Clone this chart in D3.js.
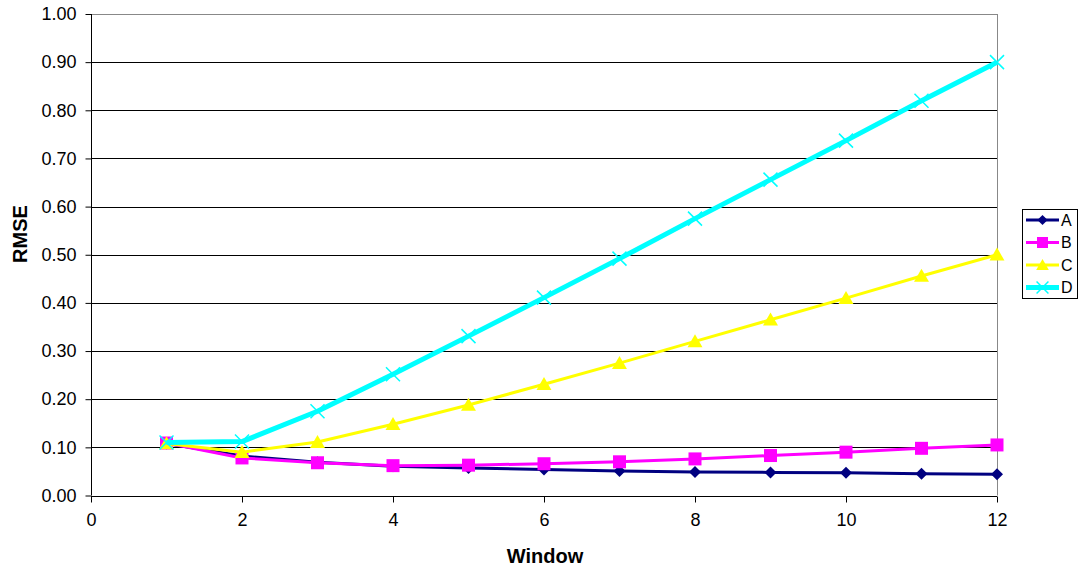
<!DOCTYPE html>
<html>
<head>
<meta charset="utf-8">
<script src="https://cdn.jsdelivr.net/npm/d3@7"></script>
<style>
  html, body { margin: 0; padding: 0; background: #fff; }
  svg { display: block; font-family: "Liberation Sans", Arial, sans-serif; }
</style>
</head>
<body>
<svg id="chart" width="1080" height="574"></svg>
<script>
// Window sizes on the x axis
const windows = [1, 2, 3, 4, 5, 6, 7, 8, 9, 10, 11, 12];

// RMSE per window for each series
const seriesA = [0.108, 0.082, 0.069, 0.061, 0.057, 0.054, 0.051, 0.049, 0.048, 0.047, 0.045, 0.044];
const seriesB = [0.109, 0.078, 0.068, 0.062, 0.063, 0.066, 0.070, 0.076, 0.083, 0.090, 0.098, 0.105];
const seriesC = [0.108, 0.090, 0.111, 0.148, 0.188, 0.231, 0.275, 0.320, 0.365, 0.410, 0.456, 0.500];
const seriesD = [0.110, 0.112, 0.175, 0.252, 0.331, 0.411, 0.492, 0.575, 0.656, 0.737, 0.820, 0.900];

const seriesNames = ["A", "B", "C", "D"];
const xTicks = [0, 2, 4, 6, 8, 10, 12];
const yTicks = [0, 0.1, 0.2, 0.3, 0.4, 0.5, 0.6, 0.7, 0.8, 0.9, 1.0];

const series = [
  { name: seriesNames[0], values: seriesA, color: "#000080", width: 3, marker: "diamond" },
  { name: seriesNames[1], values: seriesB, color: "#FF00FF", width: 3, marker: "square" },
  { name: seriesNames[2], values: seriesC, color: "#FFFF00", width: 3, marker: "triangle" },
  { name: seriesNames[3], values: seriesD, color: "#00FFFF", width: 5, marker: "cross" }
];

const svg = d3.select("#chart");
const plot = { left: 91, right: 997, top: 14, bottom: 495.5 };
const font = "Liberation Sans, Arial, sans-serif";

const x = d3.scaleLinear().domain([0, 12]).range([plot.left, plot.right]);
const y = d3.scaleLinear().domain([0, 1]).range([plot.bottom, plot.top]);

// Horizontal gridlines
svg.append("g")
  .selectAll("line")
  .data(yTicks.filter(t => t > 0))
  .join("line")
  .attr("x1", plot.left).attr("x2", plot.right)
  .attr("y1", d => Math.round(y(d)) + 0.5).attr("y2", d => Math.round(y(d)) + 0.5)
  .attr("stroke", d => d === 1 ? "#888" : "#000")
  .attr("stroke-width", 1);

// Right border of plot area
svg.append("line")
  .attr("x1", Math.round(plot.right) + 0.5).attr("x2", Math.round(plot.right) + 0.5)
  .attr("y1", plot.top).attr("y2", plot.bottom)
  .attr("stroke", "#888");

// Y axis
const yAxis = d3.axisLeft(y).tickValues(yTicks).tickFormat(d3.format(".2f")).tickSize(6).tickPadding(9);
const gy = svg.append("g").attr("transform", `translate(${plot.left + 0.5},0)`).call(yAxis);
gy.selectAll("text").attr("font-size", 18).attr("fill", "#000").style("font-family", font);
gy.selectAll("line,path").attr("stroke", "#000");
gy.select(".domain").attr("d", `M0,${plot.top}V${plot.bottom}`);

// X axis
const xAxis = d3.axisBottom(x).tickValues(xTicks).tickSize(6).tickPadding(11);
const gx = svg.append("g").attr("transform", `translate(0,${Math.round(plot.bottom) + 0.5})`).call(xAxis);
gx.selectAll("text").attr("font-size", 18).attr("fill", "#000").style("font-family", font);
gx.selectAll("line,path").attr("stroke", "#000");
gx.select(".domain").attr("d", `M${plot.left},0H${plot.right}`);

// Axis titles
svg.append("text")
  .attr("x", 545).attr("y", 563)
  .attr("text-anchor", "middle").attr("font-size", 20).attr("font-weight", "bold")
  .text("Window");
svg.append("text")
  .attr("transform", `translate(27,234) rotate(-90)`)
  .attr("text-anchor", "middle").attr("font-size", 20).attr("font-weight", "bold")
  .text("RMSE");

// Marker shapes
function markerPath(type, s) {
  if (type === "diamond") return `M0,${-s}L${s},0L0,${s}L${-s},0Z`;
  if (type === "square") return `M${-s},${-s}H${s}V${s}H${-s}Z`;
  if (type === "triangle") return `M0,${-s * 1.1}L${s * 1.15},${s * 0.9}L${-s * 1.15},${s * 0.9}Z`;
  return `M${-s},${-s}L${s},${s}M${-s},${s}L${s},${-s}`;
}
const markerSize = { diamond: 6, square: 6.5, triangle: 6.5, cross: 7 };

function drawMarker(g, type, color, scale) {
  const p = g.append("path").attr("d", markerPath(type, markerSize[type] * scale));
  if (type === "cross") p.attr("fill", "none").attr("stroke", color).attr("stroke-width", 1.5);
  else p.attr("fill", color).attr("stroke", "none");
}

const line = d3.line().x((d, i) => x(windows[i])).y(d => y(d));

// Series lines and markers
series.forEach(s => {
  const g = svg.append("g");
  g.append("path")
    .datum(s.values)
    .attr("d", line)
    .attr("fill", "none")
    .attr("stroke", s.color)
    .attr("stroke-width", s.width)
    .attr("stroke-linejoin", "round");
  s.values.forEach((v, i) => {
    const mg = g.append("g").attr("transform", `translate(${x(windows[i])},${y(v)})`);
    drawMarker(mg, s.marker, s.color, 1);
  });
});

// Legend
const legend = svg.append("g");
legend.append("rect")
  .attr("x", 1022.5).attr("y", 209.5).attr("width", 55).attr("height", 89)
  .attr("fill", "#fff").attr("stroke", "#000").attr("stroke-width", 1);
series.forEach((s, i) => {
  const cy = 220 + i * 22.5;
  const lg = legend.append("g");
  lg.append("line")
    .attr("x1", 1026).attr("x2", 1059).attr("y1", cy).attr("y2", cy)
    .attr("stroke", s.color).attr("stroke-width", s.width);
  const mg = lg.append("g").attr("transform", `translate(1042.5,${cy})`);
  drawMarker(mg, s.marker, s.color, 0.85);
  lg.append("text")
    .attr("x", 1061).attr("y", cy + 5.5)
    .attr("font-size", 16).attr("fill", "#000")
    .text(s.name);
});
</script>
</body>
</html>
